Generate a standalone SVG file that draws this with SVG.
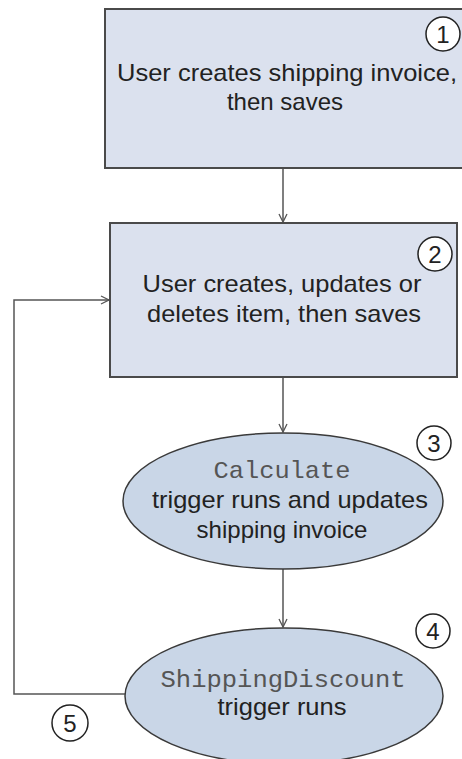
<svg xmlns="http://www.w3.org/2000/svg" width="462" height="759" viewBox="0 0 462 759">
<style>
.box{fill:#dbe1ee;stroke:#4a4a4a;stroke-width:2}
.ell{fill:#c9d6e7;stroke:#3a3a3a;stroke-width:1.5}
.num{fill:#ffffff;stroke:#222;stroke-width:1.5}
.numt{font-family:"Liberation Sans",Arial,sans-serif;font-size:24px;fill:#222;text-anchor:middle}
.t{font-family:"Liberation Sans",Arial,sans-serif;font-size:24px;fill:#222;text-anchor:middle}
.m{font-family:"Liberation Mono","Courier New",monospace;font-size:24px;fill:#555;text-anchor:middle}
.c{fill:none;stroke:#555;stroke-width:1.5}
</style>
<defs>
<marker id="ah" markerWidth="12" markerHeight="12" refX="10" refY="6" orient="auto" markerUnits="userSpaceOnUse">
<path d="M2,2 L10,6 L2,10" fill="none" stroke="#555" stroke-width="1.3"/>
</marker>
</defs>
<g id="connectors">
<line class="c" x1="283" y1="169" x2="283" y2="222" marker-end="url(#ah)"/>
<line class="c" x1="283" y1="378" x2="283" y2="432" marker-end="url(#ah)"/>
<line class="c" x1="283" y1="569" x2="283" y2="627" marker-end="url(#ah)"/>
<polyline class="c" points="125,694 14,694 14,300 109,300" marker-end="url(#ah)"/>
</g>
<g id="node1">
<rect class="box" x="105" y="9" width="370" height="159"/>
<text class="t" x="287" y="81" textLength="340" lengthAdjust="spacingAndGlyphs">User creates shipping invoice,</text>
<text class="t" x="285" y="110">then saves</text>
<circle class="num" cx="443" cy="34" r="17"/>
<text class="numt" x="443" y="43">1</text>
</g>
<g id="node2">
<rect class="box" x="110" y="223" width="347" height="154"/>
<text class="t" x="282" y="292" textLength="279" lengthAdjust="spacingAndGlyphs">User creates, updates or</text>
<text class="t" x="284" y="322" textLength="274" lengthAdjust="spacingAndGlyphs">deletes item, then saves</text>
<circle class="num" cx="435" cy="254" r="17"/>
<text class="numt" x="435" y="263">2</text>
</g>
<g id="node3">
<ellipse class="ell" cx="283" cy="501" rx="160" ry="68"/>
<text class="m" x="282" y="478" textLength="137" lengthAdjust="spacingAndGlyphs">Calculate</text>
<text class="t" x="290" y="508" textLength="276" lengthAdjust="spacingAndGlyphs">trigger runs and updates</text>
<text class="t" x="282" y="538">shipping invoice</text>
<circle class="num" cx="434" cy="443" r="17"/>
<text class="numt" x="434" y="452">3</text>
</g>
<g id="node4">
<ellipse class="ell" cx="284" cy="696" rx="159" ry="68"/>
<text class="m" x="283" y="687" textLength="245" lengthAdjust="spacingAndGlyphs">ShippingDiscount</text>
<text class="t" x="282" y="715" textLength="129" lengthAdjust="spacingAndGlyphs">trigger runs</text>
<circle class="num" cx="433" cy="631" r="17"/>
<text class="numt" x="433" y="640">4</text>
</g>
<g id="label5">
<circle class="num" cx="70" cy="723" r="18"/>
<text class="numt" x="70" y="732">5</text>
</g>
</svg>
